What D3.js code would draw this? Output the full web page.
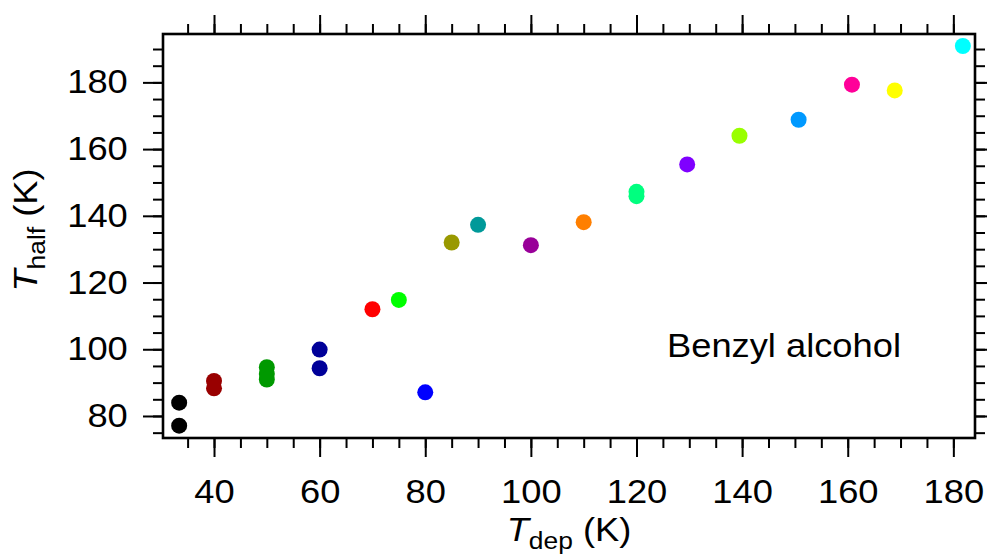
<!DOCTYPE html>
<html>
<head>
<meta charset="utf-8">
<script src="https://cdn.jsdelivr.net/npm/d3@7"></script>
<style>
  html, body { margin: 0; padding: 0; background: #fff; }
  svg { display: block; }
  text { font-family: "Liberation Sans", Arial, sans-serif; fill: #000; }
</style>
</head>
<body>
<svg id="chart" width="987" height="555"></svg>
<script>
// Deposition temperature (K) of each run
const tdep = [33.4, 33.4, 40, 40, 50, 50, 50, 60, 60, 70, 75, 80, 85, 90, 100, 110, 120, 120, 129.6, 139.5, 150.7, 160.8, 168.9, 181.8];
// Half-desorption temperature (K) of each run
const thalf = [84.0, 77.1, 90.5, 88.3, 94.6, 92.6, 90.9, 99.9, 94.3, 112.0, 114.8, 87.1, 132.0, 137.3, 131.2, 138.1, 147.2, 145.9, 155.4, 164.0, 168.8, 179.3, 177.6, 190.9];
// Marker colour of each run
const colors = ["#000000", "#000000", "#990000", "#990000", "#009900", "#009900", "#009900", "#000099", "#000099",
                "#ff0000", "#00ff00", "#0000ff", "#999900", "#009999", "#990099", "#ff7f00", "#00ff7f", "#00ff7f",
                "#7f00ff", "#99ff00", "#0099ff", "#ff0099", "#ffff00", "#00ffff"];
const xTicks = [40, 60, 80, 100, 120, 140, 160, 180];
const yTicks = [80, 100, 120, 140, 160, 180];
const xMinor = d3.range(35, 185, 5);
const yMinor = d3.range(75, 195, 5);
const sampleLabel = "Benzyl alcohol";

const svg = d3.select("#chart");
const mLeft = 163, mRight = 975, mTop = 34, mBottom = 438;
const x = d3.scaleLinear().domain([30.34, 184.1]).range([mLeft, mRight]);
const y = d3.scaleLinear().domain([73.4, 194.5]).range([mBottom, mTop]);

const fontSize = 33;
const stretch = "scale(1.1,1)";   // slightly wide lettering

function styleAxis(g) {
  g.select(".domain").remove();
  g.selectAll(".tick line").attr("stroke", "#000").attr("stroke-width", 2);
  g.selectAll(".tick text")
    .style("font-size", fontSize + "px")
    .style("font-family", '"Liberation Sans", Arial, sans-serif')
    .attr("fill", "#000")
    .attr("transform", stretch);
}

// Minor ticks on all four sides
svg.append("g").attr("transform", `translate(0,${mBottom})`)
  .call(d3.axisBottom(x).tickValues(xMinor).tickSize(10).tickFormat(""))
  .call(styleAxis);
svg.append("g").attr("transform", `translate(0,${mTop})`)
  .call(d3.axisTop(x).tickValues(xMinor).tickSize(10).tickFormat(""))
  .call(styleAxis);
svg.append("g").attr("transform", `translate(${mLeft},0)`)
  .call(d3.axisLeft(y).tickValues(yMinor).tickSize(10).tickFormat(""))
  .call(styleAxis);
svg.append("g").attr("transform", `translate(${mRight},0)`)
  .call(d3.axisRight(y).tickValues(yMinor).tickSize(10).tickFormat(""))
  .call(styleAxis);

// Major ticks with labels on bottom and left, bare on top and right
svg.append("g").attr("transform", `translate(0,${mBottom})`)
  .call(d3.axisBottom(x).tickValues(xTicks).tickSize(19).tickPadding(23).tickFormat(d3.format("d")))
  .call(styleAxis);
svg.append("g").attr("transform", `translate(0,${mTop})`)
  .call(d3.axisTop(x).tickValues(xTicks).tickSize(19).tickFormat(""))
  .call(styleAxis);
svg.append("g").attr("transform", `translate(${mLeft},0)`)
  .call(d3.axisLeft(y).tickValues(yTicks).tickSize(20).tickPadding(12).tickFormat(d3.format("d")))
  .call(styleAxis);
svg.append("g").attr("transform", `translate(${mRight},0)`)
  .call(d3.axisRight(y).tickValues(yTicks).tickSize(19).tickFormat(""))
  .call(styleAxis);

// Plot frame
svg.append("rect")
  .attr("x", mLeft).attr("y", mTop)
  .attr("width", mRight - mLeft).attr("height", mBottom - mTop)
  .attr("fill", "none").attr("stroke", "#000").attr("stroke-width", 2.6);

// Data points
svg.append("g").selectAll("circle")
  .data(tdep.map((d, i) => ({ x: d, y: thalf[i], c: colors[i] })))
  .join("circle")
  .attr("cx", d => x(d.x))
  .attr("cy", d => y(d.y))
  .attr("r", 8)
  .attr("fill", d => d.c);

// Sample label
svg.append("text")
  .attr("transform", `translate(667,357) ${stretch}`)
  .style("font-size", fontSize + "px")
  .text(sampleLabel);

// Axis titles
const xt = svg.append("text")
  .attr("transform", `translate(${(mLeft + mRight) / 2},541) ${stretch}`)
  .attr("text-anchor", "middle")
  .style("font-size", fontSize + "px");
xt.append("tspan").style("font-style", "italic").text("T");
xt.append("tspan").attr("dy", 8).style("font-size", "24px").text("dep");
xt.append("tspan").attr("dy", -8).text(" (K)");

const yt = svg.append("text")
  .attr("transform", `translate(37,${(mTop + mBottom) / 2 - 6}) rotate(-90) ${stretch}`)
  .attr("text-anchor", "middle")
  .style("font-size", fontSize + "px");
yt.append("tspan").style("font-style", "italic").text("T");
yt.append("tspan").attr("dy", 8).style("font-size", "24px").text("half");
yt.append("tspan").attr("dy", -8).text(" (K)");
</script>
</body>
</html>
